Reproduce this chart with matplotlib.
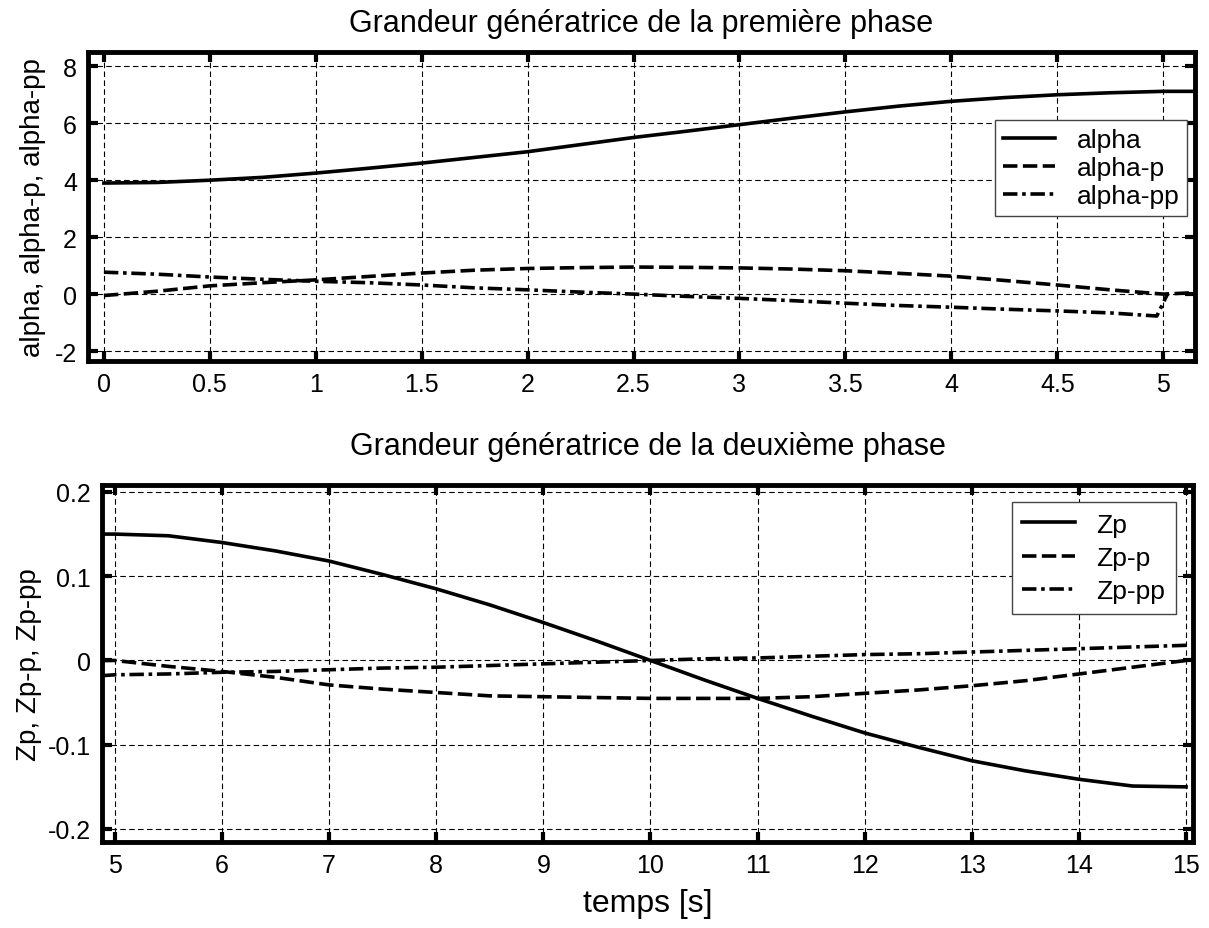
import numpy as np
import matplotlib
matplotlib.use("Agg")
import matplotlib.pyplot as plt

plt.rcParams['font.family'] = ['Liberation Sans', 'DejaVu Sans']

# phase 1
t1 = [0, 0.25, 0.5, 0.75, 1, 1.25, 1.5, 1.75, 2, 2.25, 2.5, 2.75, 3, 3.25,
      3.5, 3.75, 4, 4.25, 4.5, 4.75, 5, 5.15]
alpha = [3.9, 3.92, 4.0, 4.1, 4.25, 4.42, 4.6, 4.8, 5.0, 5.25, 5.5, 5.72,
         5.95, 6.18, 6.4, 6.6, 6.77, 6.9, 7.0, 7.07, 7.12, 7.12]
alpha_p = [-0.05, 0.1, 0.29, 0.4, 0.5, 0.62, 0.74, 0.84, 0.9, 0.93, 0.95,
           0.94, 0.92, 0.88, 0.82, 0.73, 0.63, 0.48, 0.32, 0.15, 0.0, 0.05]
t1_pp = [0, 0.25, 0.5, 0.75, 1, 1.25, 1.5, 1.75, 2, 2.25, 2.5, 2.75, 3, 3.25,
         3.5, 3.75, 4, 4.25, 4.5, 4.75, 4.97, 5.02]
alpha_pp = [0.77, 0.7, 0.6, 0.52, 0.45, 0.4, 0.32, 0.22, 0.15, 0.07, 0.0,
            -0.08, -0.15, -0.23, -0.32, -0.4, -0.46, -0.53, -0.59, -0.66,
            -0.77, 0.0]

# phase 2
t2 = [4.88, 5, 5.5, 6, 6.5, 7, 7.5, 8, 8.5, 9, 9.5, 10, 10.5, 11, 11.5, 12,
      12.5, 13, 13.5, 14, 14.5, 15]
zp = [0.15, 0.15, 0.148, 0.14, 0.13, 0.118, 0.102, 0.085, 0.066, 0.045,
      0.023, 0.0, -0.023, -0.045, -0.066, -0.086, -0.103, -0.119, -0.131,
      -0.141, -0.149, -0.15]
zp_p = [0.0, 0.0, -0.007, -0.013, -0.02, -0.029, -0.034, -0.038, -0.042,
        -0.043, -0.044, -0.045, -0.045, -0.045, -0.043, -0.039, -0.035,
        -0.03, -0.024, -0.016, -0.008, 0.0]
zp_pp = [-0.018, -0.017, -0.016, -0.014, -0.013, -0.011, -0.009, -0.008,
         -0.006, -0.004, -0.002, 0.0, 0.002, 0.003, 0.005, 0.007, 0.008,
         0.01, 0.012, 0.014, 0.016, 0.018]

xt1 = [0, 0.5, 1, 1.5, 2, 2.5, 3, 3.5, 4, 4.5, 5]
xt1_lab = ['0', '0.5', '1', '1.5', '2', '2.5', '3', '3.5', '4', '4.5', '5']
yt1 = [-2, 0, 2, 4, 6, 8]
yt1_lab = ['-2', '0', '2', '4', '6', '8']
xt2 = list(range(5, 16))
yt2 = [-0.2, -0.1, 0, 0.1, 0.2]
yt2_lab = ['-0.2', '-0.1', '0', '0.1', '0.2']

fig = plt.figure(figsize=(12.09, 9.29), dpi=100)
ax1 = fig.add_axes([0.0728, 0.6103, 0.9156, 0.3326])
ax2 = fig.add_axes([0.0844, 0.0926, 0.9024, 0.3843])

LW = 2.6
DASH = (4.0, 1.5)
DASHDOT = (4.0, 1.3, 1.0, 1.3)


def style(ax):
    for s in ax.spines.values():
        s.set_linewidth(3.5)
    ax.tick_params(direction='in', length=7, width=3, top=True, right=True,
                   labelsize=18, pad=8)
    ax.grid(True, color='black', linestyle=(0, (5, 3)), linewidth=0.8)


ax1.plot(t1, alpha, color='black', lw=LW, label='alpha')
ax1.plot(t1, alpha_p, color='black', lw=LW, linestyle=(0, DASH),
         label='alpha-p')
ax1.plot(t1_pp, alpha_pp, color='black', lw=LW, linestyle=(0, DASHDOT),
         label='alpha-pp')
ax1.set_xlim(-0.075, 5.15)
ax1.set_ylim(-2.35, 8.5)
ax1.set_xticks(xt1)
ax1.set_xticklabels(xt1_lab)
ax1.set_yticks(yt1)
ax1.set_yticklabels(yt1_lab)
style(ax1)
ax1.set_title('Grandeur génératrice de la première phase', fontsize=22, pad=15)
ax1.set_ylabel('alpha, alpha-p, alpha-pp', fontsize=20, labelpad=6)
leg1 = ax1.legend(loc='upper right', bbox_to_anchor=(0.993, 0.78),
                  fontsize=19, handlelength=2.0, handletextpad=0.8,
                  fancybox=False, framealpha=1, edgecolor='#444444',
                  borderpad=0.3, labelspacing=0.15, borderaxespad=0)
leg1.get_frame().set_linewidth(1.0)

ax2.plot(t2, zp, color='black', lw=LW, label='Zp')
ax2.plot(t2, zp_p, color='black', lw=LW, linestyle=(0, DASH), label='Zp-p')
ax2.plot(t2, zp_pp, color='black', lw=LW, linestyle=(0, DASHDOT),
         label='Zp-pp')
ax2.set_xlim(4.88, 15.065)
ax2.set_ylim(-0.2154, 0.2083)
ax2.set_xticks(xt2)
ax2.set_yticks(yt2)
ax2.set_yticklabels(yt2_lab)
style(ax2)
ax2.set_title('Grandeur génératrice de la deuxième phase', fontsize=22, pad=22)
ax2.set_ylabel('Zp, Zp-p, Zp-pp', fontsize=20, labelpad=4)
ax2.set_xlabel('temps [s]', fontsize=23, labelpad=8)
leg2 = ax2.legend(loc='upper right', bbox_to_anchor=(0.984, 0.952),
                  fontsize=19, handlelength=2.0, handletextpad=0.8,
                  fancybox=False, framealpha=1, edgecolor='#444444',
                  borderpad=0.4, labelspacing=0.35, borderaxespad=0)
leg2.get_frame().set_linewidth(1.0)

fig.savefig('out.png', dpi=100)
